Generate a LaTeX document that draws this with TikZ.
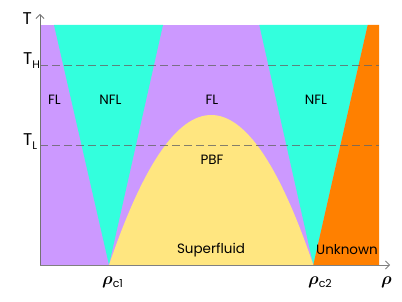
\documentclass[tikz,border=0pt]{standalone}
\usepackage{amsmath}
\usepackage{fontspec}
\setmainfont{Poppins}
\usetikzlibrary{arrows.meta}
\definecolor{fl}{HTML}{CC99FF}
\definecolor{nfl}{HTML}{33FFDD}
\definecolor{sf}{HTML}{FFE680}
\definecolor{unk}{HTML}{FF8000}
\definecolor{axisgray}{HTML}{808080}
\begin{document}
\begin{tikzpicture}[x=1pt,y=-1pt,
  lbl/.style={font=\fontsize{13.5}{13.5}\selectfont, text=black, inner sep=0pt},
  axlbl/.style={font=\fontsize{17}{17}\selectfont, text=black, inner sep=0pt},
  level/.style={draw=black!60, line width=0.8pt, dash pattern=on 8pt off 4pt, opacity=0.8},
  axisline/.style={draw=axisgray, line width=0.8pt, -{Straight Barb[length=4pt,width=8pt]}}]
\useasboundingbox (0,0) rectangle (402,302);
% regions
\fill[fl] (40,25) rectangle (379,265);
\fill[nfl] (54,25) -- (163,25) -- (109,265) -- cycle;
\fill[nfl] (259.3,25) -- (367.7,25) -- (313.3,265) -- cycle;
\fill[unk] (313.3,265) -- (367.7,25) -- (379,25) -- (379,265) -- cycle;
\fill[sf] (109,265) .. controls (177,65) and (245.5,65) .. (313.3,265) -- cycle;
% level lines
\coordinate (thl) at (40,65); \coordinate (thr) at (379,65);
\coordinate (tll) at (40,145); \coordinate (tlr) at (379,145);
\draw[level] (thl) -- (thr);
\draw[level] (tll) -- (tlr);
% axes
\coordinate (o) at (40,265);
\coordinate (ytop) at (40,14);
\coordinate (xend) at (390,265);
\draw[axisline, draw=black!55] (o) -- (ytop);
\draw[axisline] (o) -- (xend);
% labels
\node[lbl] (fl1) at (54.5,100) {FL};
\node[lbl] (nfl1) at (110.5,100) {NFL};
\node[lbl] (fl2) at (212,100) {FL};
\node[lbl] (nfl2) at (316,100) {NFL};
\node[lbl] (pbf) at (212,160) {PBF};
\node[lbl] (sfl) at (211,250) {Superfluid};
\node[lbl] (unkl) at (347,250) {Unknown};
\node[axlbl, anchor=base east] (tl) at (32,25) {T};
\node[axlbl, anchor=base west] (th) at (23,65) {T\raisebox{-4pt}{\fontsize{11}{11}\selectfont H}};
\node[axlbl, anchor=base west] (tlow) at (23,146) {T\raisebox{-4pt}{\fontsize{11}{11}\selectfont L}};
\node[axlbl, anchor=base west] (rc1) at (102,284) {$\boldsymbol{\rho}$\raisebox{-3pt}{\fontsize{11}{11}\selectfont c1}};
\node[axlbl, anchor=base west] (rc2) at (308,284) {$\boldsymbol{\rho}$\raisebox{-3pt}{\fontsize{11}{11}\selectfont c2}};
\node[axlbl, anchor=base west] (rho) at (381,284) {$\boldsymbol{\rho}$};
\end{tikzpicture}
\end{document}
